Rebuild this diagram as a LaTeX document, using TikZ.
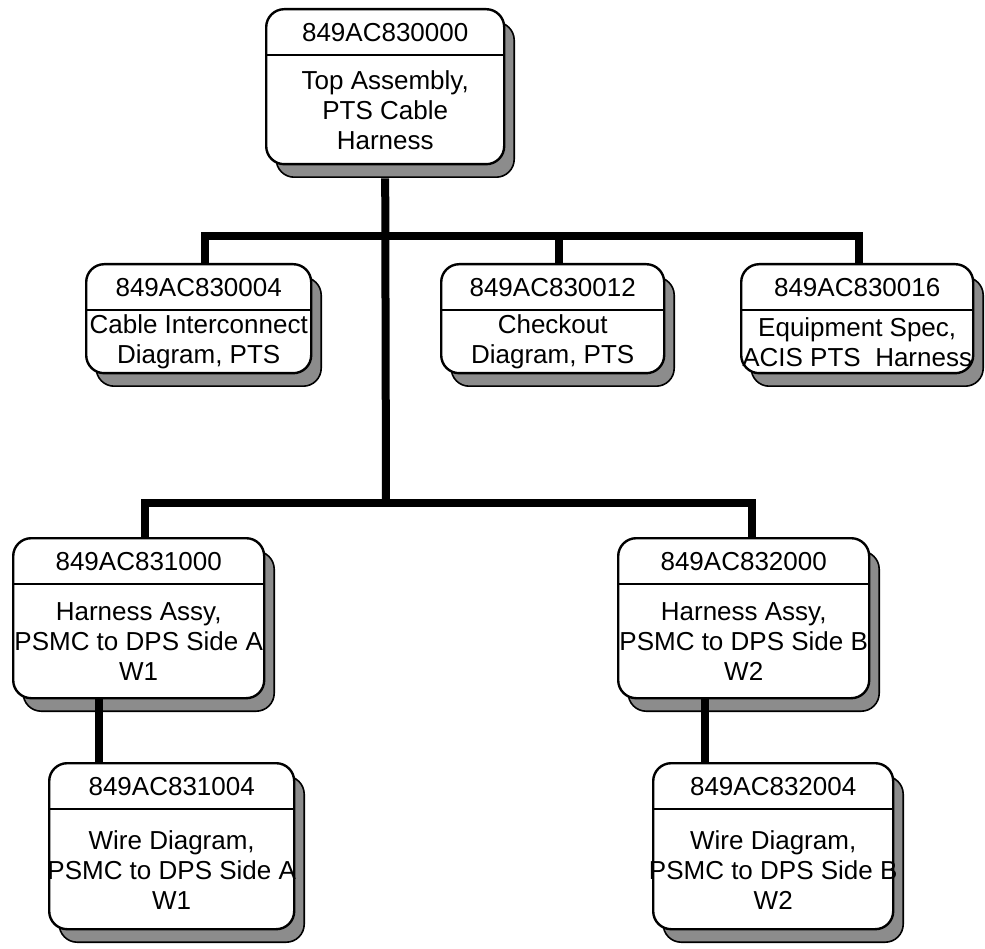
\documentclass[tikz,border=0pt]{standalone}
\usepackage{fontspec}
\setmainfont{Liberation Sans}
\usetikzlibrary{calc,shadows}
\definecolor{ShadowClr}{rgb}{0.55,0.55,0.55}

\begin{document}
\begin{tikzpicture}[x=1pt,y=-1pt,
  PartBox/.style={draw=black,line width=2.4pt,rounded corners=18pt,fill=white,
    inner sep=0pt,anchor=north west,
    drop shadow={shadow xshift=10pt,shadow yshift=-13pt,fill=ShadowClr,
      draw=black,line width=1.6pt,opacity=1}},
  PartNo/.style={font=\fontsize{26}{30}\selectfont},
  PartTxt/.style={font=\fontsize{26}{30}\selectfont,align=center,inner sep=0pt},
  Rule/.style={line width=1.4pt},
  Bar/.style={line width=8pt}]

\useasboundingbox (0,0) rectangle (985,949);

\node[PartBox,minimum width=238,minimum height=155] (T) at (265,8) {};
\node[PartBox,minimum width=225,minimum height=109] (A) at (85,263) {};
\node[PartBox,minimum width=223,minimum height=109] (B) at (440,263) {};
\node[PartBox,minimum width=232,minimum height=109] (C) at (740,263) {};
\node[PartBox,minimum width=251,minimum height=160] (D) at (12,537) {};
\node[PartBox,minimum width=251,minimum height=160] (E) at (617,537) {};
\node[PartBox,minimum width=245,minimum height=166] (F) at (48,762) {};
\node[PartBox,minimum width=240,minimum height=166] (G) at (652,762) {};

\foreach \p in {T,A,B,C,D,E,F,G}
  \draw[Rule] ([yshift=-47pt]\p.north west) -- ([yshift=-47pt]\p.north east);

\node[PartNo] (TNo) at ([yshift=-25pt]T.north) {849AC830000};
\node[PartNo] (ANo) at ([yshift=-25pt]A.north) {849AC830004};
\node[PartNo] (BNo) at ([yshift=-25pt]B.north) {849AC830012};
\node[PartNo] (CNo) at ([yshift=-25pt]C.north) {849AC830016};
\node[PartNo] (DNo) at ([yshift=-25pt]D.north) {849AC831000};
\node[PartNo] (ENo) at ([yshift=-25pt]E.north) {849AC832000};
\node[PartNo] (FNo) at ([yshift=-25pt]F.north) {849AC831004};
\node[PartNo] (GNo) at ([yshift=-25pt]G.north) {849AC832004};

\node[PartTxt] (TTxt) at ($([yshift=-47pt]T.north)!.5!(T.south)$) {Top Assembly,\\PTS Cable\\Harness};
\node[PartTxt] (ATxt) at ($([yshift=-47pt]A.north)!.5!(A.south)$) {Cable Interconnect\\Diagram, PTS};
\node[PartTxt] (BTxt) at ($([yshift=-47pt]B.north)!.5!(B.south)$) {Checkout\\Diagram, PTS};
\node[PartTxt] (CTxt) at ($([yshift=-47pt]C.north)!.5!(C.south)$) {Equipment Spec,\\ACIS PTS\ \ Harness};
\node[PartTxt] (DTxt) at ($([yshift=-47pt]D.north)!.5!(D.south)$) {Harness Assy,\\PSMC to DPS Side A\\W1};
\node[PartTxt] (ETxt) at ($([yshift=-47pt]E.north)!.5!(E.south)$) {Harness Assy,\\PSMC to DPS Side B\\W2};
\node[PartTxt] (FTxt) at ($([yshift=-47pt]F.north)!.5!(F.south)$) {Wire Diagram,\\PSMC to DPS Side A\\W1};
\node[PartTxt] (GTxt) at ($([yshift=-47pt]G.north)!.5!(G.south)$) {Wire Diagram,\\PSMC to DPS Side B\\W2};

\coordinate (UpBar) at (386,236);
\coordinate (LowBar) at (386,503);

\draw[Bar] ([yshift=-13pt]T.south) -- (LowBar);
\draw[Bar] ([xshift=6pt]A.north) -- ([xshift=6pt]A.north |- UpBar) -| ([xshift=2pt]C.north);
\draw[Bar] ([xshift=6pt]B.north) -- ([xshift=6pt]B.north |- UpBar);
\draw[Bar] ([xshift=6pt]D.north) -- ([xshift=6pt]D.north |- LowBar) -| ([xshift=8pt]E.north);
\draw[Bar] ([xshift=-40pt]D.south) -- ([xshift=-40pt]D.south |- F.north);
\draw[Bar] ([xshift=-39pt]E.south) -- ([xshift=-39pt]E.south |- G.north);

\end{tikzpicture}
\end{document}
